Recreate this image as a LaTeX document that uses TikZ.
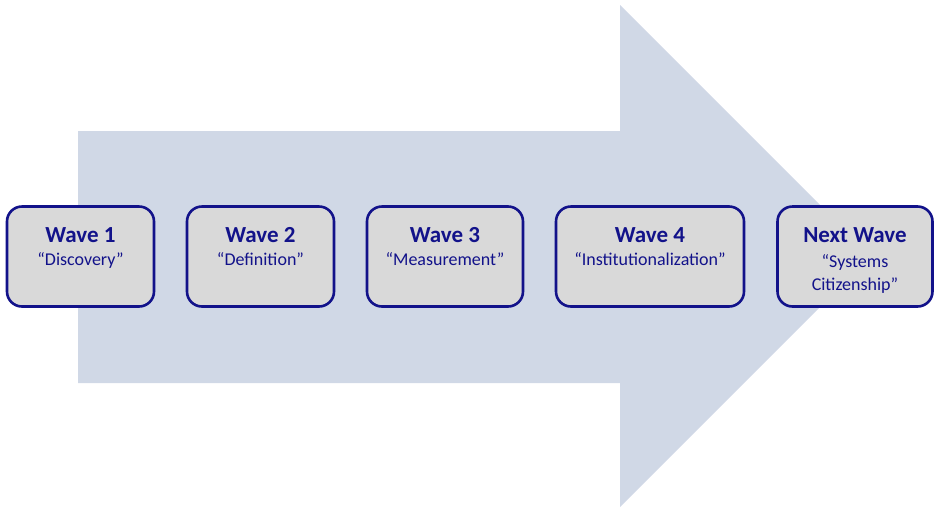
\documentclass[tikz,border=0pt]{standalone}
\usepackage{fontspec}
\setmainfont{Carlito}
\begin{document}
\definecolor{arrowfill}{HTML}{D0D8E6}
\definecolor{boxfill}{HTML}{D9D9D9}
\definecolor{navy}{HTML}{12128A}
\tikzset{
  wavebox/.style={draw=navy, line width=2.6pt, fill=boxfill, rounded corners=15pt,
    minimum height=100pt, inner sep=0pt},
  wavetitle/.style={text=navy, font=\fontsize{23}{28}\selectfont\bfseries, anchor=base, inner sep=0pt},
  wavesub/.style={text=navy, font=\fontsize{18}{23}\selectfont, anchor=base, inner sep=0pt, align=center}
}
\begin{tikzpicture}[x=1pt,y=-1pt]
  \useasboundingbox (0,0) rectangle (934,507);
  % large background arrow
  \fill[arrowfill] (78,131) -- (620,131) -- (620,5) -- (871,256) -- (620,507)
    -- (620,383) -- (78,383) -- cycle;
  % wave boxes
  \node[wavebox, minimum width=147pt] (w1) at (80.5,256.5) {};
  \node[wavebox, minimum width=147pt] (w2) at (260.5,256.5) {};
  \node[wavebox, minimum width=156pt] (w3) at (445,256.5) {};
  \node[wavebox, minimum width=188pt] (w4) at (650,256.5) {};
  \node[wavebox, minimum width=155pt] (w5) at (855,256.5) {};
  % titles
  \node[wavetitle] (t1) at (w1.center |- 0,242) {Wave 1};
  \node[wavetitle] (t2) at (w2.center |- 0,242) {Wave 2};
  \node[wavetitle] (t3) at (w3.center |- 0,242) {Wave 3};
  \node[wavetitle] (t4) at (w4.center |- 0,242) {Wave 4};
  \node[wavetitle] (t5) at (w5.center |- 0,242) {Next Wave};
  % subtitles
  \node[wavesub] (s1) at (w1.center |- 0,265) {“Discovery”};
  \node[wavesub] (s2) at (w2.center |- 0,265) {“Definition”};
  \node[wavesub] (s3) at (w3.center |- 0,265) {“Measurement”};
  \node[wavesub] (s4) at (w4.center |- 0,265) {“Institutionalization”};
  \node[wavesub, anchor=north] (s5) at (w5.center |- 0,254) {“Systems\\Citizenship”};
\end{tikzpicture}
\end{document}
